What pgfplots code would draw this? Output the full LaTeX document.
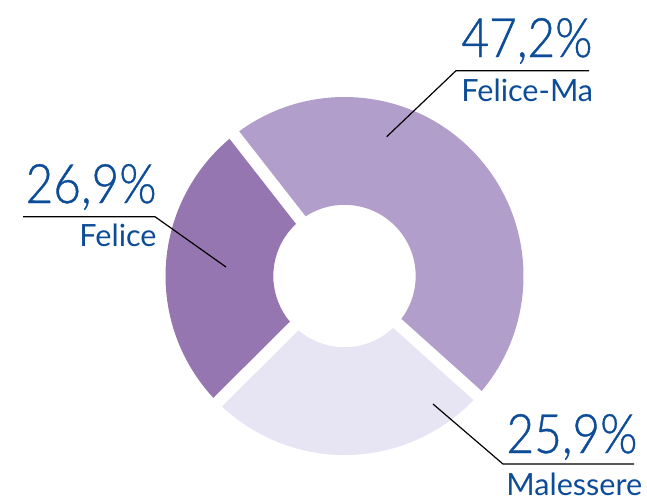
\documentclass[border=0pt]{standalone}
\usepackage{pgfplots}
\usepackage{pgfplotstable}
\pgfplotsset{compat=1.18}
\usepackage{fontspec}
\setmainfont{Lato}
\newfontfamily\numfont{Lato Light}[FakeStretch=0.88, FakeBold=0.7]
\definecolor{txt}{HTML}{0D4C97}
\definecolor{cFM}{HTML}{B19ECB}
\definecolor{cMa}{HTML}{E7E4F4}
\definecolor{cFe}{HTML}{9576B1}
\pgfplotstableread{
label value
Felice-Ma 47.2
Malessere 25.9
Felice 26.9
}\donut
\begin{document}
\begin{tikzpicture}
\pgfplotstablegetelem{0}{value}\of\donut \let\vA\pgfplotsretval
\pgfplotstablegetelem{1}{value}\of\donut \let\vB\pgfplotsretval
\pgfplotstablegetelem{2}{value}\of\donut \let\vC\pgfplotsretval
\pgfmathsetmacro{\aA}{128}
\pgfmathsetmacro{\aB}{\aA-3.6*\vA}
\pgfmathsetmacro{\aC}{\aB-3.6*\vB}
\pgfmathsetmacro{\aD}{\aC-3.6*\vC}
\begin{axis}[hide axis, scale only axis, width=323.5pt, height=249.5pt,
  xmin=0, xmax=647, ymin=0, ymax=499, clip=false]
\path (axis cs:0,0) rectangle (axis cs:647,499);
\fill[cFM, shift={(axis cs:344.5,223)}] (\aA:89.5pt) arc[start angle=\aA, end angle=\aB, radius=89.5pt] -- (\aB:35.6pt) arc[start angle=\aB, end angle=\aA, radius=35.6pt] -- cycle;
\fill[cMa, shift={(axis cs:344.5,223)}] (\aB:89.5pt) arc[start angle=\aB, end angle=\aC, radius=89.5pt] -- (\aC:35.6pt) arc[start angle=\aC, end angle=\aB, radius=35.6pt] -- cycle;
\fill[cFe, shift={(axis cs:344.5,223)}] (\aC:89.5pt) arc[start angle=\aC, end angle=\aD, radius=89.5pt] -- (\aD:35.6pt) arc[start angle=\aD, end angle=\aC, radius=35.6pt] -- cycle;
\draw[white, line width=6pt, shift={(axis cs:344.5,223)}] (0,0) -- (\aA:95pt);
\draw[white, line width=6pt, shift={(axis cs:344.5,223)}] (0,0) -- (\aB:95pt);
\draw[white, line width=6pt, shift={(axis cs:344.5,223)}] (0,0) -- (\aC:95pt);
\addplot[black, line width=0.6pt, mark=none] coordinates {(386.7,362.3) (456,428.3) (589,428.3)};
\addplot[black, line width=0.6pt, mark=none] coordinates {(23,282.3) (155,282.3) (226,232)};
\addplot[black, line width=0.6pt, mark=none] coordinates {(433,95) (503,35) (634,35)};
\node[anchor=base west, inner sep=0, text=txt, font=\numfont\fontsize{27.2}{30}\selectfont] at (axis cs:461,442) {47,2\%};
\node[anchor=base west, inner sep=0, text=txt, font=\fontsize{15.3}{18}\selectfont] at (axis cs:461,398) {Felice-Ma};
\node[anchor=base east, inner sep=0, text=txt, font=\numfont\fontsize{27.2}{30}\selectfont] at (axis cs:157,296) {26,9\%};
\node[anchor=base east, inner sep=0, text=txt, font=\fontsize{15.3}{18}\selectfont] at (axis cs:157,253) {Felice};
\node[anchor=base west, inner sep=0, text=txt, font=\numfont\fontsize{27.2}{30}\selectfont] at (axis cs:506,46) {25,9\%};
\node[anchor=base west, inner sep=0, text=txt, font=\fontsize{15.3}{18}\selectfont] at (axis cs:506,4) {Malessere};
\end{axis}
\end{tikzpicture}
\end{document}
